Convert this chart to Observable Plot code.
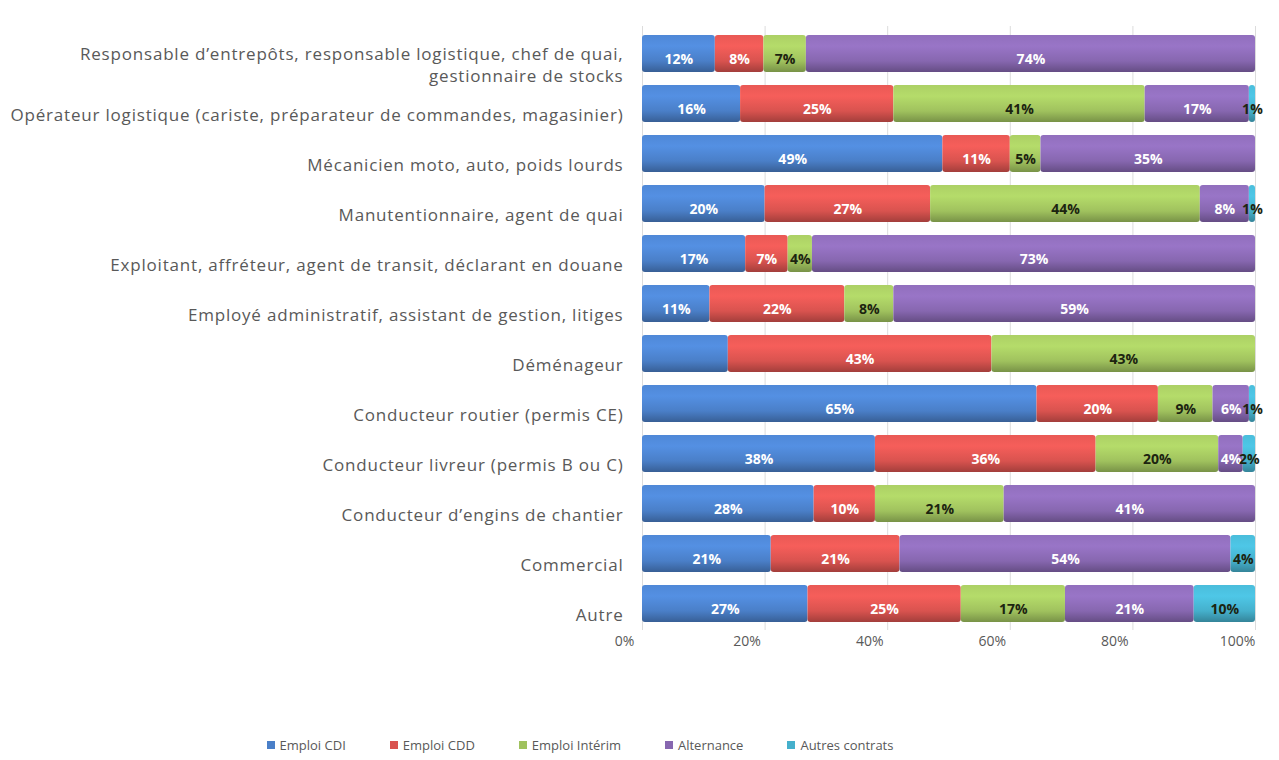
<!DOCTYPE html>
<html>
<head>
<meta charset="utf-8">
<script src="https://cdn.jsdelivr.net/npm/d3@7"></script>
<script src="https://cdn.jsdelivr.net/npm/@observablehq/plot@0.6"></script>
<style>
  body { margin: 0; background: #ffffff; font-family: "Open Sans", sans-serif; }
  #legend { width: 1160px; display: flex; justify-content: center; gap: 44px; font-size: 13px; color: #595959; margin-top: 0px; }
  #legend span.item { display: inline-flex; align-items: center; gap: 5px; }
  #legend span.sw { width: 8px; height: 8px; display: inline-block; }
  .yax text { letter-spacing: 0.8px; }
</style>
</head>
<body>
<div id="chart"></div>
<div id="legend"></div>
<script>
const categories = [
  "Responsable d’entrepôts, responsable logistique, chef de quai,\ngestionnaire de stocks",
  "Opérateur logistique (cariste, préparateur de commandes, magasinier)",
  "Mécanicien moto, auto, poids lourds",
  "Manutentionnaire, agent de quai",
  "Exploitant, affréteur, agent de transit, déclarant en douane",
  "Employé administratif, assistant de gestion, litiges",
  "Déménageur",
  "Conducteur routier (permis CE)",
  "Conducteur livreur (permis B ou C)",
  "Conducteur d’engins de chantier",
  "Commercial",
  "Autre"
];
const series = ["Emploi CDI", "Emploi CDD", "Emploi Intérim", "Alternance", "Autres contrats"];
const cdi        = [12, 16, 49, 20, 17, 11, 14, 65, 38, 28, 21, 27];
const cdd        = [ 8, 25, 11, 27,  7, 22, 43, 20, 36, 10, 21, 25];
const interim    = [ 7, 41,  5, 44,  4,  8, 43,  9, 20, 21,  0, 17];
const alternance = [74, 17, 35,  8, 73, 59,  0,  6,  4, 41, 54, 21];
const autres     = [ 0,  1,  0,  1,  0,  0,  0,  1,  2,  0,  4, 10];
// data labels that are not shown in the original (category, series)
const hiddenLabels = [["Déménageur", "Emploi CDI"]];
const xTicks = [0, 0.2, 0.4, 0.6, 0.8, 1];

const colors = ["#4a7fc8", "#d9534f", "#a0c25e", "#8767b0", "#45b0cc"];
const gradIds = series.map((s, i) => "grad" + i);

const valuesBySeries = [cdi, cdd, interim, alternance, autres];
const data = [];
categories.forEach((c, ci) => {
  series.forEach((s, si) => {
    const v = valuesBySeries[si][ci];
    const hide = hiddenLabels.some(([hc, hs]) => c.startsWith(hc) && hs === s);
    data.push({category: c, series: s, value: v, hide});
  });
});

const whiteText = new Set(["Emploi CDI", "Emploi CDD", "Alternance"]);
const labelText = (d, white) =>
  (d.value > 0 && !d.hide && whiteText.has(d.series) === white) ? `${d.value}%` : null;

const stackOpts = {x: "value", y: "category", z: "series", order: series, offset: "normalize"};

const chart = Plot.plot({
  width: 1279,
  height: 736,
  marginLeft: 642,
  marginRight: 24,
  marginTop: 26,
  marginBottom: 106,
  style: {fontFamily: "'Open Sans', sans-serif", background: "#ffffff"},
  x: {domain: [0, 1], ticks: xTicks},
  y: {domain: categories, paddingInner: 0.264, paddingOuter: 0.132},
  color: {domain: series, range: gradIds.map(id => `url(#${id})`)},
  marks: [
    Plot.gridX(xTicks, {stroke: "#dcdcdc", strokeOpacity: 1}),
    Plot.axisX({ticks: xTicks, tickSize: 0, tickPadding: 6, tickFormat: d3.format(".0%"), fontSize: 14, fill: "#595959", dx: -18, label: null}),
    Plot.axisY({tickSize: 0, tickPadding: 19, fontSize: 17, fill: "#595959", label: null, lineHeight: 1.28, dy: 10, className: "yax"}),
    Plot.barX(data, Plot.stackX({...stackOpts, fill: "series", rx: 3})),
    Plot.text(data, Plot.stackX({...stackOpts, text: d => labelText(d, true), fill: "white", fontWeight: "bold", fontSize: 14, dy: 6})),
    Plot.text(data, Plot.stackX({...stackOpts, text: d => labelText(d, false), fill: "#1c2410", fontWeight: "bold", fontSize: 14, dy: 6}))
  ]
});

// gradient definitions giving the cylinder-like shading
const ns = "http://www.w3.org/2000/svg";
const defs = document.createElementNS(ns, "defs");
colors.forEach((col, i) => {
  const g = document.createElementNS(ns, "linearGradient");
  g.setAttribute("id", gradIds[i]);
  g.setAttribute("x1", "0"); g.setAttribute("y1", "0");
  g.setAttribute("x2", "0"); g.setAttribute("y2", "1");
  const c = d3.color(col);
  const stops = [
    [0, c.brighter(0.2)],
    [0.3, c.brighter(0.35)],
    [0.7, c],
    [1, c.darker(0.8)]
  ];
  stops.forEach(([o, cc]) => {
    const st = document.createElementNS(ns, "stop");
    st.setAttribute("offset", o);
    st.setAttribute("stop-color", cc.formatHex());
    g.appendChild(st);
  });
  defs.appendChild(g);
});
chart.insertBefore(defs, chart.firstChild);

document.getElementById("chart").appendChild(chart);

const legend = document.getElementById("legend");
series.forEach((s, i) => {
  const item = document.createElement("span");
  item.className = "item";
  const sw = document.createElement("span");
  sw.className = "sw";
  sw.style.background = colors[i];
  item.appendChild(sw);
  item.appendChild(document.createTextNode(s));
  legend.appendChild(item);
});
</script>
</body>
</html>
